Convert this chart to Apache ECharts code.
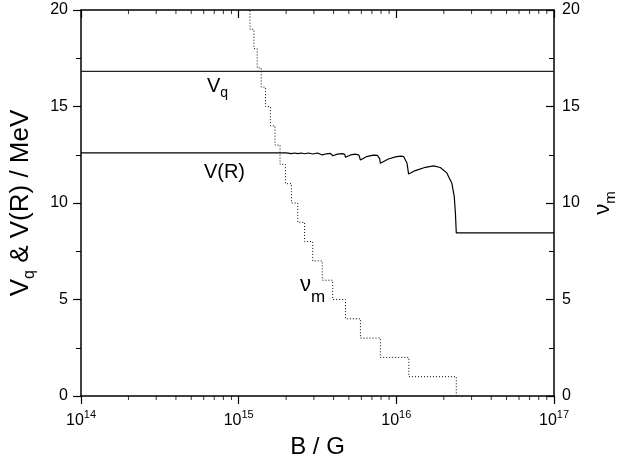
<!DOCTYPE html>
<html><head><meta charset="utf-8">
<script src="https://cdn.jsdelivr.net/npm/echarts@6/dist/echarts.min.js"></script>
<style>html,body{margin:0;padding:0;background:#fff}#c{width:632px;height:470px}</style>
</head><body><div id="c"></div>
<script>
// ---- data ----
const xRange = [1e14, 1e17];
const yRange = [0, 20];
const yInterval = 5;
// minor tick marks of the log axis: mantissas within each decade
const minorMantissa = [2, 3, 4, 5, 6, 7, 8, 9];
const minorDecades = [1e14, 1e15, 1e16];

// V_q (MeV)
const vqB = [1e14, 1e17];
const vqV = [16.82, 16.82];

// V(R) (MeV)
const vrB = [1e14, 2.0e15, 2.16e15, 2.26e15, 2.37e15, 2.49e15, 2.62e15, 2.77e15, 2.95e15, 3.16e15,
             3.39e15, 3.61e15, 3.82e15, 3.95e15, 4.23e15, 4.55e15, 4.71e15, 4.76e15, 5.12e15, 5.50e15,
             5.79e15, 5.92e15, 6.46e15, 7.15e15, 7.58e15, 7.84e15, 7.92e15, 8.90e15, 1.00e16, 1.076e16,
             1.112e16, 1.169e16, 1.196e16, 1.32e16, 1.53e16, 1.72e16, 1.90e16, 2.09e16, 2.25e16, 2.33e16,
             2.37e16, 2.40e16, 1e17];
const vrV = [12.6, 12.6, 12.56, 12.59, 12.555, 12.59, 12.55, 12.59, 12.54, 12.59,
             12.49, 12.55, 12.57, 12.45, 12.53, 12.56, 12.52, 12.37, 12.49, 12.53,
             12.48, 12.23, 12.40, 12.48, 12.47, 12.30, 12.06, 12.28, 12.40, 12.43,
             12.41, 12.06, 11.50, 11.68, 11.85, 11.92, 11.84, 11.56, 11.02, 10.33,
             9.47, 8.45, 8.45];

// nu_m staircase: B where the level changes, and the level after it
const nuB = [1.14e15, 1.18e15, 1.25e15, 1.31e15, 1.39e15, 1.48e15, 1.59e15, 1.70e15, 1.83e15, 1.98e15,
             2.16e15, 2.37e15, 2.62e15, 2.95e15, 3.39e15, 3.95e15, 4.76e15, 5.92e15, 7.92e15, 1.20e16, 2.40e16];
const nuLevel = [20, 19, 18, 17, 16, 15, 14, 13, 12, 11, 10, 9, 8, 7, 6, 5, 4, 3, 2, 1, 0];

const FONT = "'Liberation Sans', Arial, sans-serif";
const zip = (a, b) => a.map((v, i) => [v, b[i]]);
const minorTicks = [];
minorDecades.forEach(d => minorMantissa.forEach(m => minorTicks.push(m * d)));

const chart = echarts.init(document.getElementById('c'), null, {renderer: 'canvas'});

const axisLine = {show: true, onZero: false, lineStyle: {color: '#000', width: 1.5}};
const baseX = {
  type: 'log', logBase: 10, min: xRange[0], max: xRange[1],
  splitLine: {show: false}, axisLine: axisLine
};
const baseY = {
  type: 'value', min: yRange[0], max: yRange[1], interval: yInterval,
  splitLine: {show: false}, axisLine: axisLine
};
const tickMark = (yVal) => ({
  type: 'scatter', xAxisIndex: 0, yAxisIndex: 0, silent: true, clip: false,
  data: minorTicks.map(v => [v, yVal]),
  symbol: 'rect', symbolSize: [1, 4], symbolOffset: [0, 2],
  itemStyle: {color: '#000'}, z: 5, animation: false
});

chart.setOption({
  animation: false,
  backgroundColor: '#fff',
  grid: {left: 80, right: 78, top: 10, bottom: 74, containLabel: false},
  xAxis: [
    Object.assign({}, baseX, {
      position: 'bottom',
      name: 'B / G', nameLocation: 'middle', nameGap: 39,
      nameTextStyle: {fontFamily: FONT, fontSize: 24, color: '#000'},
      axisTick: {show: true, inside: false, length: 8, lineStyle: {color: '#000', width: 1.2}},
      axisLabel: {
        margin: 13, color: '#000', fontFamily: FONT, fontSize: 16,
        formatter: v => '{b|10}{s|' + Math.round(Math.log10(v)) + '}',
        rich: {
          b: {fontFamily: FONT, fontSize: 16, color: '#000'},
          s: {fontFamily: FONT, fontSize: 11, color: '#000', padding: [0, 0, 12, 0]}
        }
      }
    }),
    Object.assign({}, baseX, {
      position: 'top',
      axisTick: {show: true, inside: true, length: 8, lineStyle: {color: '#000', width: 1.2}},
      axisLabel: {show: false}
    })
  ],
  yAxis: [
    Object.assign({}, baseY, {
      position: 'left',
      name: '{a|V}{b|q}{a| & V(R) / MeV}', nameLocation: 'middle', nameGap: 43,
      nameTextStyle: {
        fontFamily: FONT, fontSize: 26, color: '#000',
        rich: {
          a: {fontFamily: FONT, fontSize: 26, color: '#000'},
          b: {fontFamily: FONT, fontSize: 16, color: '#000', padding: [18, 0, 0, 0]}
        }
      },
      axisTick: {show: true, inside: false, length: 8, lineStyle: {color: '#000', width: 1.2}},
      minorTick: {show: true, splitNumber: 2, length: 5, lineStyle: {color: '#000', width: 1}},
      axisLabel: {margin: 13, color: '#000', fontFamily: FONT, fontSize: 16}
    }),
    Object.assign({}, baseY, {
      position: 'right',
      name: '{a|ν}{b|m}', nameLocation: 'middle', nameGap: 33,
      nameTextStyle: {
        fontFamily: FONT, fontSize: 22, color: '#000',
        rich: {
          a: {fontFamily: FONT, fontSize: 22, color: '#000'},
          b: {fontFamily: FONT, fontSize: 15, color: '#000', padding: [16, 0, 0, 0]}
        }
      },
      axisTick: {show: true, inside: true, length: 8, lineStyle: {color: '#000', width: 1.2}},
      minorTick: {show: true, splitNumber: 2, length: 5, lineStyle: {color: '#000', width: 1}},
      axisLabel: {margin: 8, color: '#000', fontFamily: FONT, fontSize: 16}
    })
  ],
  series: [
    {
      name: 'Vq', type: 'line', xAxisIndex: 0, yAxisIndex: 0,
      data: zip(vqB, vqV), showSymbol: false, symbol: 'none',
      lineStyle: {color: '#222', width: 1.2}, z: 3
    },
    {
      name: 'V(R)', type: 'line', xAxisIndex: 0, yAxisIndex: 0,
      data: zip(vrB, vrV), showSymbol: false, symbol: 'none',
      lineStyle: {color: '#000', width: 1.2}, z: 3
    },
    {
      name: 'nu_m', type: 'line', xAxisIndex: 0, yAxisIndex: 1, step: 'end',
      data: zip(nuB, nuLevel), showSymbol: false, symbol: 'none',
      lineStyle: {color: '#000', width: 1, type: [1, 2]}, z: 2
    },
    tickMark(yRange[0]),
    tickMark(yRange[1])
  ],
  graphic: [
    {
      type: 'text', x: 207, y: 86, silent: true,
      style: {
        text: '{a|V}{b|q}', align: 'left', verticalAlign: 'middle',
        rich: {
          a: {fontFamily: FONT, fontSize: 20, fill: '#000'},
          b: {fontFamily: FONT, fontSize: 14, fill: '#000', padding: [14, 0, 0, 0]}
        }
      }
    },
    {
      type: 'text', x: 245, y: 172, silent: true,
      style: {text: 'V(R)', align: 'right', verticalAlign: 'middle', font: '20px ' + FONT, fill: '#000'}
    },
    {
      type: 'text', x: 300, y: 285, silent: true,
      style: {
        text: '{a|ν}{b|m}', align: 'left', verticalAlign: 'middle',
        rich: {
          a: {fontFamily: FONT, fontSize: 22, fill: '#000'},
          b: {fontFamily: FONT, fontSize: 17, fill: '#000', padding: [24, 0, 0, 0]}
        }
      }
    }
  ]
});
</script>
</body></html>
